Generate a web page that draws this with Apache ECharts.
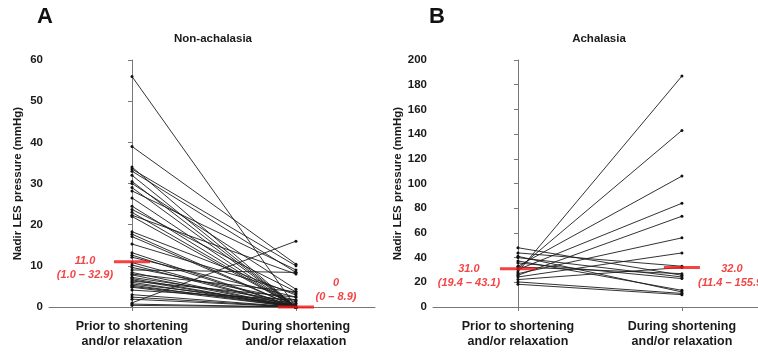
<!DOCTYPE html>
<html>
<head>
<meta charset="utf-8">
<script src="https://cdn.jsdelivr.net/npm/echarts@6/dist/echarts.min.js"></script>
<style>
  html, body { margin: 0; padding: 0; background: #fff; }
  #chart { width: 758px; height: 352px; }
</style>
</head>
<body>
<div id="chart"></div>
<script>
// categories on both panels
const categories = ['Prior to shortening\nand/or relaxation', 'During shortening\nand/or relaxation'];

// panel A, non-achalasia: paired values (mmHg)
const preA = [56, 39, 34, 33.5, 33, 32, 30.5, 30, 29, 28.2, 26.5, 24.5, 23.7, 23, 22.3, 22,
  18.3, 17.7, 17.1, 15.3, 13.2, 12.6, 12.1, 10.8, 10.2, 9.6, 9.0, 8.4, 8.0, 7.8, 7.2, 6.9,
  6.6, 6.3, 6.0, 5.6, 5.3, 5.0, 4.8, 4.1, 3.0, 2.4, 1.9, 1.0, 0.7, 0.4];
const postA = [0, 10.4, 0, 10, 8.4, 0, 0, 4.3, 0, 9, 0, 0, 3.7, 0, 8, 0,
  2.9, 0, 0, 3.3, 0, 0, 2.4, 0, 0, 1.7, 8.4, 0, 3.7, 0, 1.3, 0,
  0, 2.4, 0, 0.9, 0, 0.5, 0, 1.7, 0, 0, 0, 16, 0, 0];

// panel B, achalasia
const preB = [48, 43.8, 41, 40, 37.3, 35.7, 33, 32.4, 31, 30.3, 28.4, 27, 25.7, 24.3, 22.2, 20.3, 18.4];
const postB = [25.7, 33, 12.2, 24.3, 13.5, 23, 106, 27, 143, 84, 187, 56, 73.5, 43.8, 32, 11, 10];

// medians and ranges shown in red
const medianA = [11.0, 0];
const rangeA = ['(1.0 – 32.9)', '(0 – 8.9)'];
const medianB = [31.0, 32.0];
const rangeB = ['(19.4 – 43.1)', '(11.4 – 155.9)'];

const yTicksA = { min: 0, max: 60, interval: 10 };
const yTicksB = { min: 0, max: 200, interval: 20 };

const boldFont = 'Liberation Sans, Arial, sans-serif';
const red = '#f01414';

function pairSeries(pre, post, idx) {
  return pre.map((v, i) => ({
    type: 'line',
    xAxisIndex: idx,
    yAxisIndex: idx,
    data: [[0, v], [1, post[i]]],
    symbol: 'circle',
    symbolSize: 3,
    itemStyle: { color: '#111' },
    lineStyle: { color: '#1c1c1c', width: 0.9 },
    silent: true,
    animation: false,
    z: 2
  }));
}

function medianSeries(med, ranges, idx, offsets) {
  return {
    type: 'scatter',
    xAxisIndex: idx,
    yAxisIndex: idx,
    symbol: 'rect',
    symbolSize: [36, 3],
    itemStyle: { color: red },
    silent: true,
    animation: false,
    z: 5,
    data: med.map((m, i) => ({
      value: [i, m],
      label: {
        show: true,
        position: 'inside',
        align: 'center',
        offset: offsets[i],
        formatter: (m === 0 ? '0' : m.toFixed(1)) + '\n' + ranges[i],
        color: red,
        fontFamily: boldFont,
        fontWeight: 'bold',
        fontStyle: 'italic',
        fontSize: 11,
        lineHeight: 14
      }
    }))
  };
}

function xAxis(idx, min, max) {
  return {
    type: 'value',
    gridIndex: idx,
    min: min,
    max: max,
    splitLine: { show: false },
    axisLine: { lineStyle: { color: '#777', width: 1 } },
    axisTick: { show: true, customValues: [0, 1], length: 4, lineStyle: { color: '#777' } },
    axisLabel: {
      customValues: [0, 1],
      formatter: v => categories[Math.round(v)],
      margin: 12,
      color: '#1a1a1a',
      fontFamily: boldFont,
      fontWeight: 'bold',
      fontSize: 12.5,
      lineHeight: 15
    }
  };
}

function yAxis(idx, t, gap) {
  return {
    type: 'value',
    gridIndex: idx,
    min: t.min,
    max: t.max,
    interval: t.interval,
    name: 'Nadir LES pressure (mmHg)',
    nameLocation: 'middle',
    nameGap: gap,
    nameTextStyle: { color: '#1a1a1a', fontFamily: boldFont, fontWeight: 'bold', fontSize: 11.5 },
    splitLine: { show: false },
    axisLine: { show: true, lineStyle: { color: '#777', width: 1 } },
    axisTick: { show: true, length: 4, lineStyle: { color: '#777' } },
    axisLabel: { margin: 6, color: '#1a1a1a', fontFamily: boldFont, fontWeight: 'bold', fontSize: 11.5 }
  };
}

const chart = echarts.init(document.getElementById('chart'));

const option = {
  backgroundColor: '#fff',
  animation: false,
  graphic: [
    { type: 'text', x: 45, y: 17, style: { text: 'A', font: 'bold 22px ' + boldFont, fill: '#111', textAlign: 'center', textVerticalAlign: 'middle' } },
    { type: 'text', x: 437, y: 17, style: { text: 'B', font: 'bold 22px ' + boldFont, fill: '#111', textAlign: 'center', textVerticalAlign: 'middle' } },
    { type: 'text', x: 213, y: 39, style: { text: 'Non-achalasia', font: 'bold 11.5px ' + boldFont, fill: '#1a1a1a', textAlign: 'center', textVerticalAlign: 'middle' } },
    { type: 'text', x: 599, y: 39, style: { text: 'Achalasia', font: 'bold 11.5px ' + boldFont, fill: '#1a1a1a', textAlign: 'center', textVerticalAlign: 'middle' } }
  ],
  grid: [
    { left: 49, top: 60, width: 326, height: 247 },
    { left: 433, top: 60, width: 325, height: 247 }
  ],
  xAxis: [xAxis(0, -0.506, 1.482), xAxis(1, -0.518, 1.464)],
  yAxis: [yAxis(0, yTicksA, 25), yAxis(1, yTicksB, 27)],
  series: [
    ...pairSeries(preA, postA, 0),
    ...pairSeries(preB, postB, 1),
    medianSeries(medianA, rangeA, 0, [[-47, 6], [40, -17]]),
    medianSeries(medianB, rangeB, 1, [[-49, 7], [50, 8]])
  ]
};

chart.setOption(option);
</script>
</body>
</html>
